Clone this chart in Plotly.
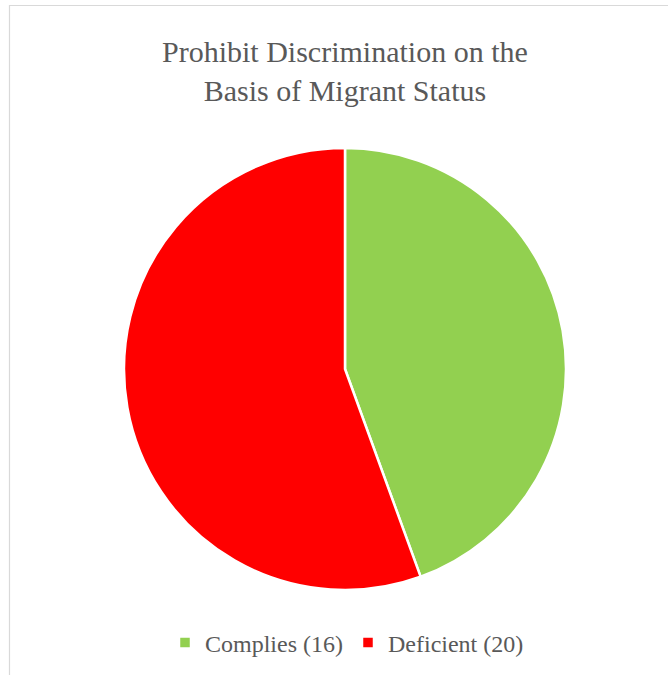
import plotly.graph_objects as go

labels = ["Complies (16)", "Deficient (20)"]
values = [16, 20]
colors = ["#92D050", "#FF0000"]

W, H = 668, 675
SERIF = "Liberation Serif, Times New Roman, serif"


def px_x(x):
    return x / W


def px_y(y):
    return 1 - y / H


fig = go.Figure(
    go.Pie(
        labels=labels,
        values=values,
        sort=False,
        direction="clockwise",
        rotation=0,
        textinfo="none",
        marker=dict(colors=colors, line=dict(color="white", width=2.5)),
        domain=dict(x=[px_x(124), px_x(566)], y=[px_y(590), px_y(148)]),
        hovertemplate="%{label}: %{value}<extra></extra>",
    )
)

# chart border (only top and left edges visible in the crop)
fig.add_shape(
    type="path",
    xref="paper", yref="paper",
    path=f"M {px_x(9.5)},{px_y(675)} L {px_x(9.5)},{px_y(5.5)} L {px_x(668)},{px_y(5.5)}",
    line=dict(color="#D9D9D9", width=1.2),
)

fig.add_annotation(
    text="Prohibit Discrimination on the<br>Basis of Migrant Status",
    xref="paper", yref="paper",
    x=px_x(345), y=px_y(71),
    xanchor="center", yanchor="middle",
    showarrow=False,
    font=dict(family=SERIF, size=30, color="#595959"),
)

fig.update_layout(
    width=W,
    height=H,
    margin=dict(l=0, r=0, t=0, b=0),
    paper_bgcolor="white",
    plot_bgcolor="white",
    showlegend=True,
    legend=dict(
        orientation="h",
        x=px_x(347), xanchor="center",
        y=px_y(643), yanchor="middle",
        font=dict(family=SERIF, size=24, color="#595959"),
        itemwidth=30,
    ),
)

fig.write_html(
    "out.html",
    config={"displayModeBar": False},
    post_script="document.body.style.margin='0';",
)
